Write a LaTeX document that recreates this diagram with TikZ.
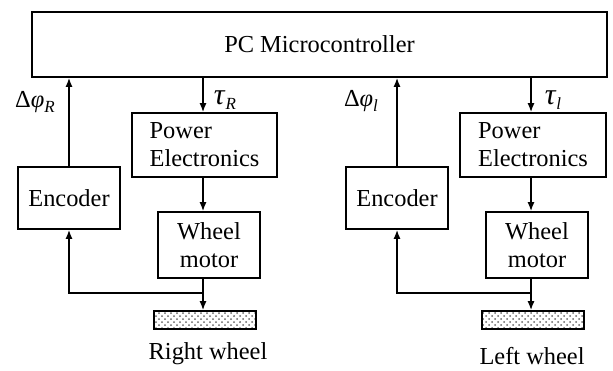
\documentclass[tikz,border=0pt]{standalone}
\usepackage{fontspec}
\setmainfont{Liberation Serif}
\usetikzlibrary{arrows.meta,patterns}
\newcommand{\subsc}[1]{\raisebox{-0.45ex}{\fontsize{8.5}{9}\selectfont\textit{#1}}}
\begin{document}
\begin{tikzpicture}[x=0.5pt,y=-0.5pt,
  every node/.style={font=\fontsize{12.2}{14}\selectfont},
  blk/.style={draw,line width=0.8pt,inner sep=0pt},
  wheelbox/.style={draw,line width=0.8pt,pattern=crosshatch dots,pattern color=black!60,inner sep=0pt,minimum width=51pt,minimum height=9pt},
  conn/.style={line width=0.8pt,-{Latex[length=4.5pt,width=3.5pt]}},
  lin/.style={line width=0.8pt}]
\useasboundingbox (0,0) rectangle (613,370);
\node[blk,minimum width=287.5pt,minimum height=32.5pt] (pc) at (319.5,44.5) {PC Microcontroller};
% right side
\node[blk,minimum width=51pt,minimum height=31pt] (encR) at (69,198) {Encoder};
\node[blk,minimum width=72.5pt,minimum height=32pt,align=left] (peR) at (204.5,145) {Power\\Electronics};
\node[blk,minimum width=51pt,minimum height=33pt,align=center] (wmR) at (209,245) {Wheel\\motor};
\node[wheelbox] (whR) at (205,320) {};
\node (txtR) at (208,354) {Right wheel};
\coordinate (xR) at (203,0);
\coordinate (bR) at (203,293);
% left side
\node[blk,minimum width=51pt,minimum height=31pt] (encL) at (397,198) {Encoder};
\node[blk,minimum width=73pt,minimum height=32pt,align=left] (peL) at (533,145) {Power\\Electronics};
\node[blk,minimum width=51pt,minimum height=33pt,align=center] (wmL) at (537,245) {Wheel\\motor};
\node[wheelbox] (whL) at (533,320) {};
\node (txtL) at (532,356) {Left wheel};
\coordinate (xL) at (531,0);
\coordinate (bL) at (531,293);
% labels
\node (lphR) at (35,102) {Δ\textit{φ}\subsc{R}};
\node (ltR) at (225,100) {{\fontsize{15}{16}\selectfont\textit{τ}}\subsc{R}};
\node (lphL) at (361,101) {Δ\textit{φ}\subsc{l}};
\node (ltL) at (553,100) {{\fontsize{15}{16}\selectfont\textit{τ}}\subsc{l}};
% connectors right
\draw[conn] (encR.north) -- (encR.north |- pc.south);
\draw[conn] (pc.south -| xR) -- (peR.north -| xR);
\draw[conn] (peR.south -| xR) -- (wmR.north -| xR);
\draw[conn] (wmR.south -| xR) -- (whR.north -| xR);
\draw[conn] (bR) -| (encR.south);
% connectors left
\draw[conn] (encL.north) -- (encL.north |- pc.south);
\draw[conn] (pc.south -| xL) -- (peL.north -| xL);
\draw[conn] (peL.south -| xL) -- (wmL.north -| xL);
\draw[conn] (wmL.south -| xL) -- (whL.north -| xL);
\draw[conn] (bL) -| (encL.south);
\end{tikzpicture}
\end{document}
